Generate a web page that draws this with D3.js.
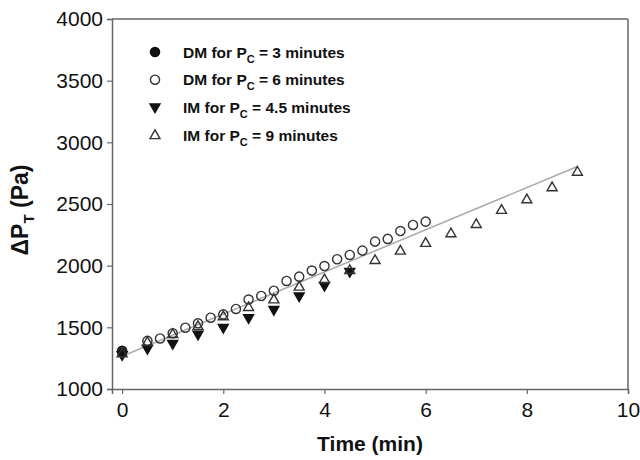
<!DOCTYPE html>
<html>
<head>
<meta charset="utf-8">
<script src="https://cdn.jsdelivr.net/npm/d3@7"></script>
<style>
  html, body { margin: 0; padding: 0; background: #fff; }
  svg { display: block; font-family: "Liberation Sans", Arial, sans-serif; }
</style>
</head>
<body>
<svg id="chart" width="640" height="460"></svg>
<script>
// Pressure drop vs. time for the two filtration modes
const dm3Time = [0];
const dm3Val  = [1310];

const dm6Time = [0, 0.5, 0.75, 1, 1.25, 1.5, 1.75, 2, 2.25, 2.5, 2.75, 3, 3.25, 3.5, 3.75, 4, 4.25, 4.5, 4.75, 5, 5.25, 5.5, 5.75, 6];
const dm6Val  = [1300, 1390, 1410, 1452, 1497, 1533, 1578, 1605, 1649, 1725, 1754, 1797, 1876, 1911, 1960, 1997, 2052, 2087, 2122, 2195, 2217, 2281, 2330, 2357];

const im45Time = [0, 0.5, 1, 1.5, 2, 2.5, 3, 3.5, 4, 4.5];
const im45Val  = [1275, 1325, 1365, 1440, 1495, 1575, 1640, 1750, 1835, 1950];

const im9Time = [0, 0.5, 1, 1.5, 2, 2.5, 3, 3.5, 4, 4.5, 5, 5.5, 6, 6.5, 7, 7.5, 8, 8.5, 9];
const im9Val  = [1290, 1380, 1446, 1511, 1590, 1665, 1727, 1830, 1890, 1965, 2046, 2122, 2185, 2263, 2338, 2452, 2538, 2636, 2762];

// Linear fit drawn across the full time span
const fitTime = [0, 9];
const fitVal  = [1265, 2804];

const xTicks = [0, 2, 4, 6, 8, 10];
const yTicks = [1000, 1500, 2000, 2500, 3000, 3500, 4000];

const legendLabels = [
  { pre: "DM for P", sub: "C", post: " = 3 minutes" },
  { pre: "DM for P", sub: "C", post: " = 6 minutes" },
  { pre: "IM for P", sub: "C", post: " = 4.5 minutes" },
  { pre: "IM for P", sub: "C", post: " = 9 minutes" }
];

const svg = d3.select("#chart");
const plotL = 112, plotR = 628, plotT = 19, plotB = 389;

const x = d3.scaleLinear().domain([-0.2, 10]).range([plotL, plotR]);
const y = d3.scaleLinear().domain([1000, 4000]).range([plotB, plotT]);

const axisColor = "#666";

// frame (top and right)
svg.append("line").attr("x1", plotL).attr("x2", plotR).attr("y1", plotT).attr("y2", plotT)
  .attr("stroke", axisColor).attr("stroke-width", 1.5);
svg.append("line").attr("x1", plotR).attr("x2", plotR).attr("y1", plotT).attr("y2", plotB)
  .attr("stroke", axisColor).attr("stroke-width", 1.5);

const xAxis = svg.append("g").attr("transform", `translate(0,${plotB})`)
  .call(d3.axisBottom(x).tickValues(xTicks).tickFormat(d3.format("d"))
    .tickSizeOuter(0).tickSize(5).tickPadding(8));
const yAxis = svg.append("g").attr("transform", `translate(${plotL},0)`)
  .call(d3.axisLeft(y).tickValues(yTicks).tickFormat(d3.format("d"))
    .tickSizeOuter(0).tickSize(5).tickPadding(4));

[xAxis, yAxis].forEach(g => {
  g.select(".domain").attr("stroke", axisColor).attr("stroke-width", 1.5);
  g.selectAll(".tick line").attr("stroke", axisColor).attr("stroke-width", 1.2);
  g.selectAll(".tick text").attr("fill", "#111").style("font-size", "21px")
    .style("font-family", "'Liberation Sans', Arial, sans-serif");
});

// fit line
svg.append("path")
  .datum(fitTime.map((t, i) => [t, fitVal[i]]))
  .attr("fill", "none").attr("stroke", "#aaa").attr("stroke-width", 1.5)
  .attr("d", d3.line().x(d => x(d[0])).y(d => y(d[1])));

const circlePath = d3.symbol().type(d3.symbolCircle).size(66)();
const triUp = "M0,-5.2L5,3.5L-5,3.5Z";
const triDown = "M0,5.2L5,-3.5L-5,-3.5Z";

const seriesDefs = [
  { t: dm3Time, v: dm3Val, path: circlePath, fill: "#111", stroke: "#111" },
  { t: dm6Time, v: dm6Val, path: circlePath, fill: "none", stroke: "#333" },
  { t: im45Time, v: im45Val, path: triDown, fill: "#111", stroke: "#111" },
  { t: im9Time, v: im9Val, path: triUp, fill: "none", stroke: "#333" }
];

seriesDefs.forEach(s => {
  svg.append("g").selectAll("path")
    .data(s.t.map((t, i) => [t, s.v[i]]))
    .join("path")
    .attr("d", s.path)
    .attr("transform", d => `translate(${x(d[0])},${y(d[1])})`)
    .attr("fill", s.fill).attr("stroke", s.stroke).attr("stroke-width", 1.4);
});

// legend
const leg = svg.append("g");
legendLabels.forEach((lab, i) => {
  const yy = 52 + i * 27.7;
  const s = seriesDefs[i];
  leg.append("path").attr("d", s.path)
    .attr("transform", `translate(155,${yy})`)
    .attr("fill", s.fill).attr("stroke", s.stroke).attr("stroke-width", 1.4);
  const txt = leg.append("text").attr("x", 183).attr("y", yy + 5.5)
    .style("font-size", "15.5px").style("font-weight", "bold").attr("fill", "#111");
  txt.append("tspan").text(lab.pre);
  txt.append("tspan").attr("dy", 5).style("font-size", "11px").text(lab.sub);
  txt.append("tspan").attr("dy", -5).text(lab.post);
});

// axis titles
svg.append("text").attr("x", 370).attr("y", 451).attr("text-anchor", "middle")
  .style("font-size", "21px").style("font-weight", "bold").attr("fill", "#111")
  .text("Time (min)");

const yt = svg.append("text").attr("transform", "translate(28,210) rotate(-90)")
  .attr("text-anchor", "middle")
  .style("font-size", "23px").style("font-weight", "bold").attr("fill", "#111");
yt.append("tspan").text("ΔP");
yt.append("tspan").attr("dy", 6).style("font-size", "15px").text("T");
yt.append("tspan").attr("dy", -6).text(" (Pa)");
</script>
</body>
</html>
